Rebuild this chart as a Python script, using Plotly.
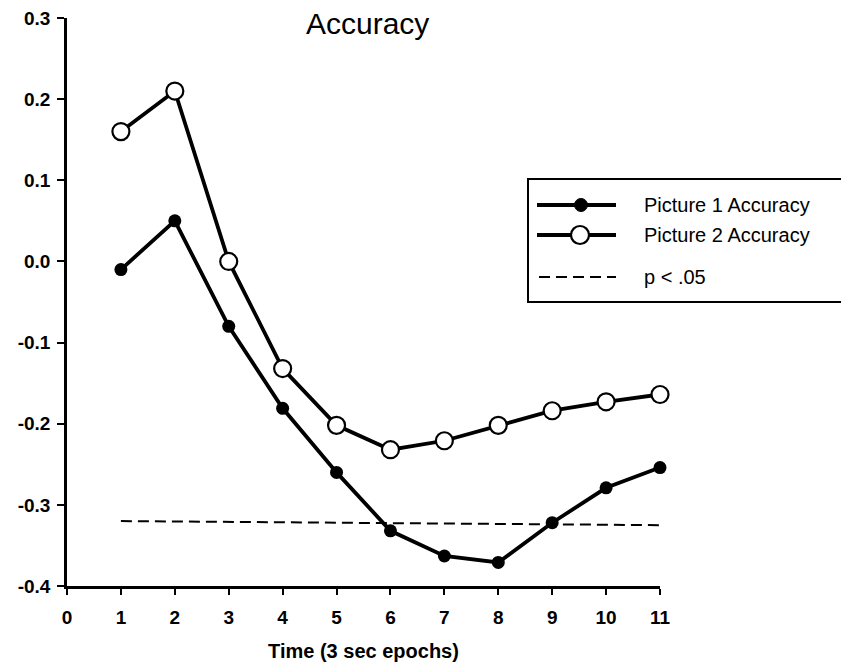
import plotly.graph_objects as go

epochs = [1, 2, 3, 4, 5, 6, 7, 8, 9, 10, 11]
picture1 = [-0.01, 0.05, -0.08, -0.181, -0.26, -0.332, -0.363, -0.371, -0.322, -0.279, -0.254]
picture2 = [0.16, 0.21, 0.0, -0.132, -0.202, -0.232, -0.221, -0.202, -0.184, -0.173, -0.164]
sig_x = [1, 11]
sig_y = [-0.32, -0.325]
x_ticks = [0, 1, 2, 3, 4, 5, 6, 7, 8, 9, 10, 11]
y_ticks = [-0.4, -0.3, -0.2, -0.1, 0.0, 0.1, 0.2, 0.3]
y_tick_labels = ["-0.4", "-0.3", "-0.2", "-0.1", "0.0", "0.1", "0.2", "0.3"]
legend_labels = ["Picture 1 Accuracy", "Picture 2 Accuracy", "p < .05"]

W, H = 841, 668
L, R, T, B = 67, 181, 18, 82
pw, ph = W - L - R, H - T - B

def px(x):
    return (x - L) / pw

def py(y):
    return (H - B - y) / ph

fig = go.Figure()
fig.add_trace(go.Scatter(x=sig_x, y=sig_y, mode="lines",
                         line=dict(color="black", width=2, dash="11px,6px"),
                         showlegend=False, hoverinfo="skip", cliponaxis=False))
fig.add_trace(go.Scatter(x=epochs, y=picture1, mode="lines+markers",
                         line=dict(color="black", width=3.8),
                         marker=dict(size=13, color="black", symbol="circle"),
                         showlegend=False, cliponaxis=False))
fig.add_trace(go.Scatter(x=epochs, y=picture2, mode="lines+markers",
                         line=dict(color="black", width=3.8),
                         marker=dict(size=17, color="white", symbol="circle",
                                     line=dict(color="black", width=2.2)),
                         showlegend=False, cliponaxis=False))

font = "Liberation Sans, Arial, sans-serif"
shapes = []
annotations = []
shapes.append(dict(type="rect", xref="paper", yref="paper",
                   x0=px(528), x1=px(848), y0=py(302), y1=py(179),
                   line=dict(color="black", width=2), fillcolor="rgba(0,0,0,0)"))
leg_y = [205, 235, 277]
shapes.append(dict(type="line", xref="paper", yref="paper", x0=px(537), x1=px(616),
                   y0=py(leg_y[0]), y1=py(leg_y[0]), line=dict(color="black", width=3.8)))
shapes.append(dict(type="line", xref="paper", yref="paper", x0=px(537), x1=px(616),
                   y0=py(leg_y[1]), y1=py(leg_y[1]), line=dict(color="black", width=3.8)))
shapes.append(dict(type="line", xref="paper", yref="paper", x0=px(539), x1=px(616),
                   y0=py(leg_y[2]), y1=py(leg_y[2]),
                   line=dict(color="black", width=2, dash="11px,6px")))
r1 = 6.5
shapes.append(dict(type="circle", xref="paper", yref="paper",
                   x0=px(581 - r1), x1=px(581 + r1), y0=py(leg_y[0] + r1), y1=py(leg_y[0] - r1),
                   fillcolor="black", line=dict(color="black", width=1)))
r2 = 9
shapes.append(dict(type="circle", xref="paper", yref="paper",
                   x0=px(580 - r2), x1=px(580 + r2), y0=py(leg_y[1] + r2), y1=py(leg_y[1] - r2),
                   fillcolor="white", line=dict(color="black", width=2.2)))
for lab, yy in zip(legend_labels, leg_y):
    annotations.append(dict(text=lab, xref="paper", yref="paper", x=px(642), y=py(yy),
                            xanchor="left", yanchor="middle", showarrow=False,
                            font=dict(family=font, size=20, color="black")))
annotations.append(dict(text="Accuracy", xref="paper", yref="paper", x=px(367), y=py(23),
                        xanchor="center", yanchor="middle", showarrow=False,
                        font=dict(family=font, size=30, color="black")))

fig.update_layout(
    width=W, height=H,
    margin=dict(l=L, r=R, t=T, b=B, pad=0),
    paper_bgcolor="white", plot_bgcolor="white",
    shapes=shapes, annotations=annotations,
    showlegend=False,
    font=dict(family=font, color="black"),
)
fig.update_xaxes(range=[0, 11], tickvals=x_ticks, ticktext=[str(t) for t in x_ticks],
                 showgrid=False, zeroline=False, showline=True, linecolor="black", linewidth=2.5,
                 ticks="outside", ticklen=6, tickwidth=2, tickcolor="black",
                 ticklabelstandoff=6, automargin=False,
                 tickfont=dict(family=font, size=19, color="black", weight="bold"),
                 title=dict(text="<b>Time (3 sec epochs)</b>", standoff=18,
                            font=dict(family=font, size=20, color="black")))
fig.update_yaxes(range=[-0.4, 0.3], tickvals=y_ticks, ticktext=y_tick_labels,
                 showgrid=False, zeroline=False, showline=True, linecolor="black", linewidth=2.5,
                 ticks="outside", ticklen=7, tickwidth=2, tickcolor="black",
                 ticklabelstandoff=3, automargin=False,
                 tickfont=dict(family=font, size=19, color="black", weight="bold"))

fig.write_html("out.html", config={"displayModeBar": False},
               post_script="document.body.style.margin='0px';")
